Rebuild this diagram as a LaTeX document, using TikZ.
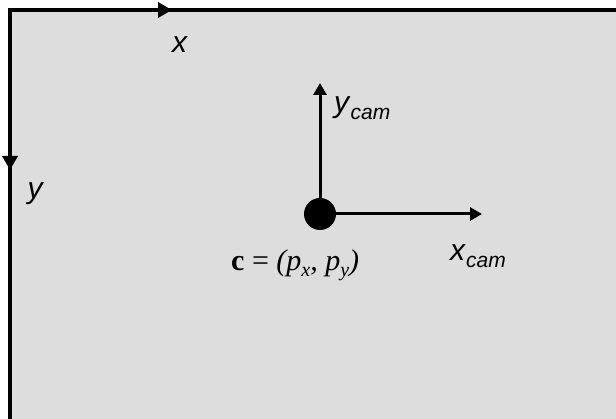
\documentclass[tikz,border=0pt]{standalone}
\usepackage{fontspec}
\setmainfont{Liberation Sans}
\newfontfamily\serif{Liberation Serif}
\usetikzlibrary{arrows.meta}
\definecolor{paper}{HTML}{DDDDDD}
\newcommand{\lbl}[2]{\textit{#1}\raisebox{-0.22em}{\fontsize{21}{21}\selectfont\textit{#2}}}
\tikzset{
  frame/.style={line width=4pt},
  ax/.style={line width=3pt, -{Triangle[length=12pt,width=13pt]}},
  fax/.style={line width=4pt, -{Triangle[length=14pt,width=15pt]}},
  lab/.style={font=\fontsize{30}{30}\selectfont, inner sep=0pt}
}
\begin{document}
\begin{tikzpicture}[x=1pt, y=-1pt]
  \useasboundingbox (0,0) rectangle (616,419);
  % image plane
  \fill[paper] (10,10) rectangle (616,419);
  \coordinate (o) at (10,10);
  \coordinate (tr) at (616,10);
  \coordinate (bl) at (10,419);
  \coordinate (xtip) at (172,10);
  \coordinate (ytip) at (10,170);
  \draw[frame] (tr) -- (o) -- (bl);
  \draw[fax] (o) -- (xtip);
  \draw[fax] (o) -- (ytip);
  \node[lab] (xl) at (180,45) {\textit{x}};
  \node[lab] (yl) at (36,194) {\textit{y}};

  % camera centre
  \node[circle, fill=black, minimum size=32pt, inner sep=0pt] (c) at (320,214) {};
  \coordinate (ycam) at (320,83);
  \coordinate (xcam) at (482,214);
  \draw[ax] (c.center) -- (ycam);
  \draw[ax] (c.center) -- (xcam);
  \node[lab, anchor=west] (yc) at (334,108) {\lbl{y}{cam}};
  \node[lab, anchor=west] (xc) at (450,256) {\lbl{x}{cam}};
  \node[inner sep=0pt, anchor=west] (cl) at (231,265)
    {\serif\fontsize{30}{30}\selectfont\textbf{c} = \textit{(p}\raisebox{-0.2em}{\fontsize{20}{20}\selectfont\textit{x}}\textit{, p}\raisebox{-0.2em}{\fontsize{20}{20}\selectfont\textit{y}}\textit{)}};
\end{tikzpicture}
\end{document}
